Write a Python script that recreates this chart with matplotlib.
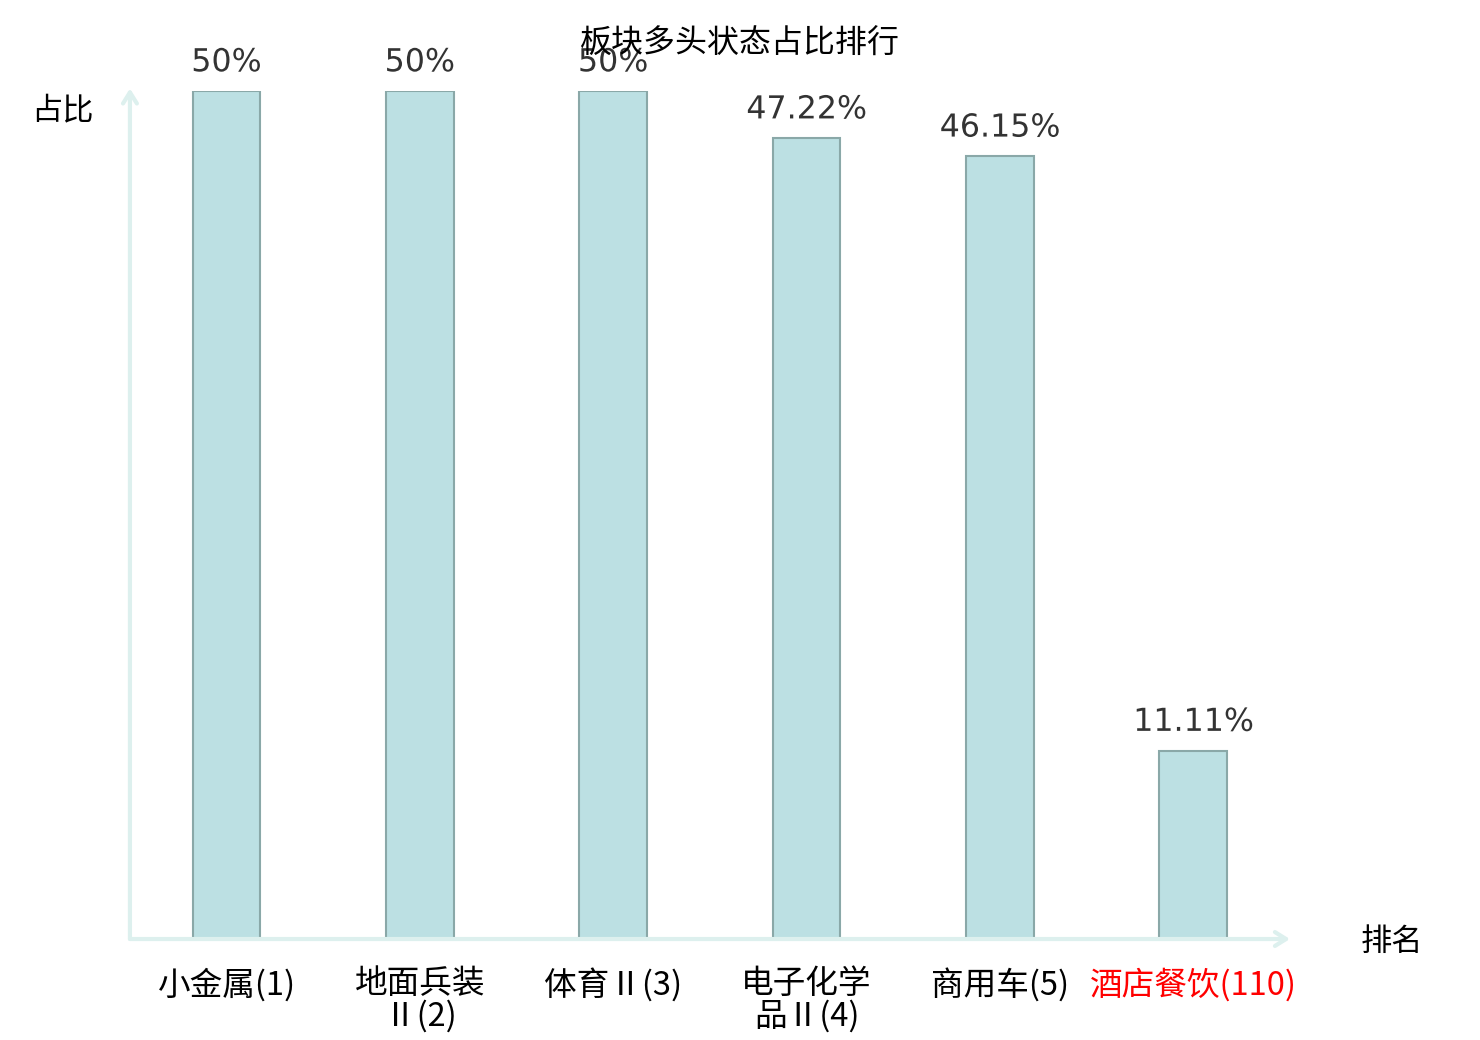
import matplotlib.pyplot as plt
import matplotlib.patheffects as pe

plt.rcParams['font.family'] = ['Noto Sans CJK SC', 'DejaVu Sans']

# data
sectors = ['小金属(1)', '地面兵装\nⅡ(2)', '体育Ⅱ(3)', '电子化学\n品Ⅱ(4)', '商用车(5)', '酒店餐饮(110)']
ratios = [50, 50, 50, 47.22, 46.15, 11.11]
ratio_labels = ['50%', '50%', '50%', '47.22%', '46.15%', '11.11%']
label_colors = ['black', 'black', 'black', 'black', 'black', 'red']

fig = plt.figure(figsize=(14.8, 10.4), dpi=100)
ax = fig.add_axes([0.0878, 0.0971, 0.7838, 0.8154])

x = list(range(len(sectors)))
ax.bar(x, ratios, width=0.35, color='#bce0e3', edgecolor='#8aa8a8', linewidth=1.5)

for i, v in enumerate(ratios):
    ax.text(i, v + 0.75, ratio_labels[i], ha='center', va='bottom', fontsize=22.8,
            color='#333333', family='DejaVu Sans',
            path_effects=[pe.withStroke(linewidth=3, foreground='white')])

ax.set_xlim(-0.5, 5.5)
ax.set_ylim(0, 50)
for s in ax.spines.values():
    s.set_visible(False)
ax.set_yticks([])
ax.set_xticks(x)
ax.set_xticklabels(sectors, fontsize=23.5, linespacing=0.98)
ax.tick_params(axis='x', length=0, pad=21)
for lbl, c in zip(ax.get_xticklabels(), label_colors):
    lbl.set_color(c)

# axis lines with arrows
axis_col = '#ddf0ee'
ax.annotate('', xy=(1.0, 0), xycoords='axes fraction', xytext=(0, 0),
            arrowprops=dict(arrowstyle='->,head_length=0.8,head_width=0.5', color=axis_col, lw=3,
                            shrinkA=0, shrinkB=0), annotation_clip=False)
ax.annotate('', xy=(0, 1.003), xycoords='axes fraction', xytext=(0, 0),
            arrowprops=dict(arrowstyle='->,head_length=0.8,head_width=0.5', color=axis_col, lw=3,
                            shrinkA=0, shrinkB=0), annotation_clip=False)

fig.text(0.5, 0.958, '板块多头状态占比排行', ha='center', va='center', fontsize=23)
fig.text(0.0425, 0.894, '占比', ha='center', va='center', fontsize=22.5)
fig.text(0.9405, 0.094, '排名', ha='center', va='center', fontsize=22.5)

fig.savefig('out.png', dpi=100)
